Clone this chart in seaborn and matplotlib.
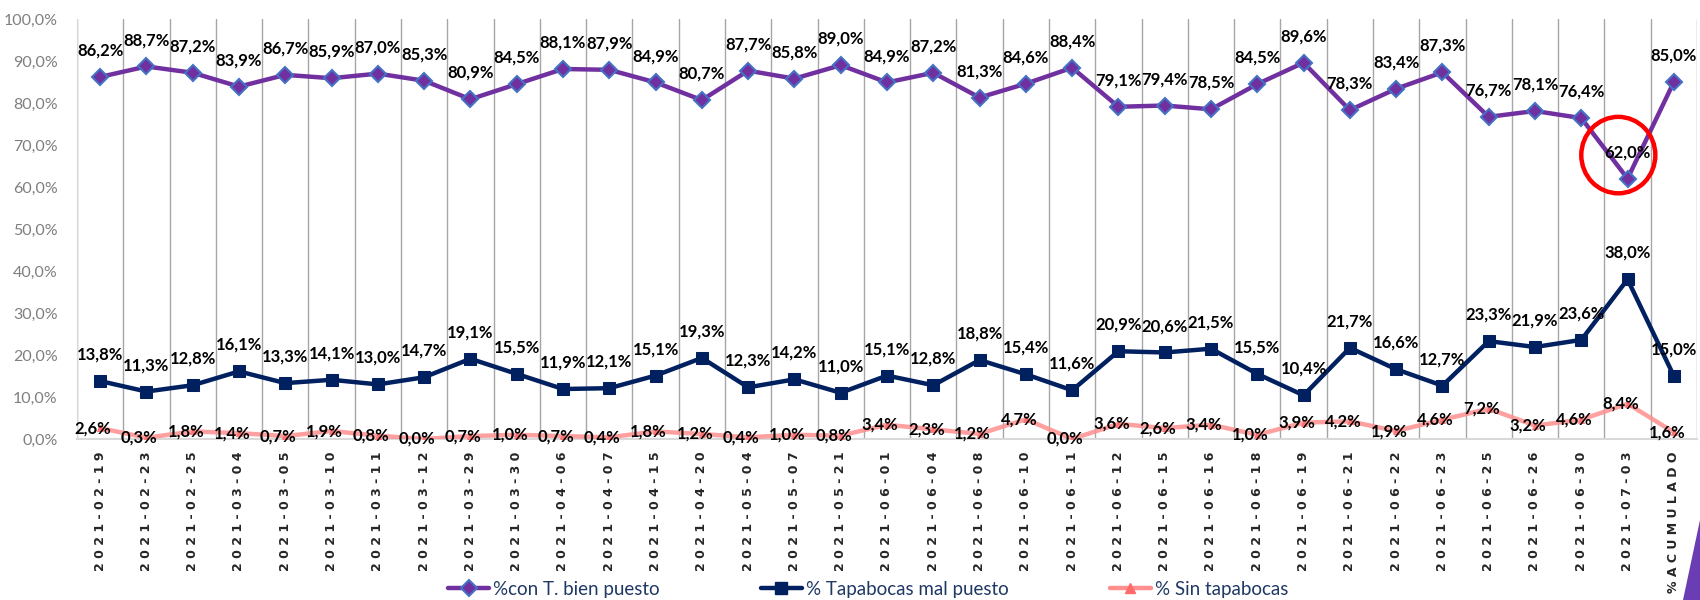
import numpy as np
import pandas as pd
import matplotlib
matplotlib.use("Agg")
import matplotlib.pyplot as plt
from matplotlib.patches import Ellipse, Polygon
from matplotlib.lines import Line2D
import seaborn as sns

fechas = ["2021-02-19", "2021-02-23", "2021-02-25", "2021-03-04", "2021-03-05", "2021-03-10",
          "2021-03-11", "2021-03-12", "2021-03-29", "2021-03-30", "2021-04-06", "2021-04-07",
          "2021-04-15", "2021-04-20", "2021-05-04", "2021-05-07", "2021-05-21", "2021-06-01",
          "2021-06-04", "2021-06-08", "2021-06-10", "2021-06-11", "2021-06-12", "2021-06-15",
          "2021-06-16", "2021-06-18", "2021-06-19", "2021-06-21", "2021-06-22", "2021-06-23",
          "2021-06-25", "2021-06-26", "2021-06-30", "2021-07-03", "% ACUMULADO"]

bien_puesto = [86.2, 88.7, 87.2, 83.9, 86.7, 85.9, 87.0, 85.3, 80.9, 84.5, 88.1, 87.9, 84.9,
               80.7, 87.7, 85.8, 89.0, 84.9, 87.2, 81.3, 84.6, 88.4, 79.1, 79.4, 78.5, 84.5,
               89.6, 78.3, 83.4, 87.3, 76.7, 78.1, 76.4, 62.0, 85.0]
mal_puesto = [13.8, 11.3, 12.8, 16.1, 13.3, 14.1, 13.0, 14.7, 19.1, 15.5, 11.9, 12.1, 15.1,
              19.3, 12.3, 14.2, 11.0, 15.1, 12.8, 18.8, 15.4, 11.6, 20.9, 20.6, 21.5, 15.5,
              10.4, 21.7, 16.6, 12.7, 23.3, 21.9, 23.6, 38.0, 15.0]
sin_tapabocas = [2.6, 0.3, 1.8, 1.4, 0.7, 1.9, 0.8, 0.0, 0.7, 1.0, 0.7, 0.4, 1.8, 1.2, 0.4,
                 1.0, 0.8, 3.4, 2.3, 1.2, 4.7, 0.0, 3.6, 2.6, 3.4, 1.0, 3.9, 4.2, 1.9, 4.6,
                 7.2, 3.2, 4.6, 8.4, 1.6]

series = ["%con T. bien puesto", "% Tapabocas mal puesto", "% Sin tapabocas"]

df = pd.DataFrame({"fecha": fechas, series[0]: bien_puesto,
                   series[1]: mal_puesto, series[2]: sin_tapabocas})

sns.set_style("white")
plt.rcParams["font.family"] = ["Lato", "DejaVu Sans"]

fig = plt.figure(figsize=(17, 6), dpi=100)
ax = fig.add_axes([77 / 1700, 1 - 439 / 600, 1620 / 1700, 420 / 600])

morado = "#7030A0"
azul = "#002060"
rosa = "#FF8F8F"

sns.lineplot(data=df, x="fecha", y=series[0], ax=ax, color=morado, lw=3.2, marker="D",
             markersize=8, markerfacecolor=morado, markeredgecolor="#4472C4",
             markeredgewidth=1.5, zorder=4)
sns.lineplot(data=df, x="fecha", y=series[1], ax=ax, color=azul, lw=3.2, marker="s",
             markersize=9, markerfacecolor=azul, markeredgecolor=azul, zorder=4)
sns.lineplot(data=df, x="fecha", y=series[2], ax=ax, color=rosa, lw=3.2, alpha=0.85,
             marker="^", markersize=5, markerfacecolor="#FF6B6B", markeredgecolor="#FF6B6B",
             zorder=3)

def fmt(v):
    return f"{v:.1f}%".replace(".", ",")

for i, v in enumerate(bien_puesto):
    ax.annotate(fmt(v), (i, v), xytext=(0, 19), textcoords="offset points",
                ha="center", va="center", fontsize=12, fontweight="bold", color="black", zorder=6)
for i, v in enumerate(mal_puesto):
    ax.annotate(fmt(v), (i, v), xytext=(0, 19), textcoords="offset points",
                ha="center", va="center", fontsize=12, fontweight="bold", color="black", zorder=6)
for i, v in enumerate(sin_tapabocas):
    ax.annotate(fmt(v), (i, v), xytext=(-5, 0), textcoords="offset points",
                ha="center", va="center", fontsize=12, fontweight="bold", color="black", zorder=6)

# circulo rojo sobre el minimo
imin = int(np.argmin(bien_puesto))
ax.add_patch(Ellipse((imin - 0.2, bien_puesto[imin] + 5.6), 1.6, 18.2, fill=False,
                     edgecolor="#FF0000", lw=3.2, zorder=7, clip_on=False))

ax.set_xlim(-0.5, len(fechas) - 0.5)
ax.set_ylim(0, 100)
ax.set_yticks(np.arange(0, 101, 10))
ax.set_yticklabels([fmt(t) for t in np.arange(0, 101, 10)], fontsize=11.5, color="#7F7F7F")
ax.set_xticks(range(len(fechas)))
ax.set_xticklabels([" ".join(f.replace(" ", "")) for f in fechas], rotation=90, fontsize=9,
                   fontweight="bold", family="DejaVu Sans")
ax.set_xticks(np.arange(-0.5, len(fechas), 1), minor=True)
ax.grid(False)
ax.grid(which="minor", axis="x", color="#A6A6A6", lw=1)
ax.tick_params(axis="both", which="both", length=0)
ax.tick_params(axis="x", pad=9)
ax.tick_params(axis="y", pad=14)
ax.set_xlabel("")
ax.set_ylabel("")
for s in ["top", "right"]:
    ax.spines[s].set_visible(False)
ax.spines["left"].set_color("#D9D9D9")
ax.spines["bottom"].set_color("#D9D9D9")
ax.spines["bottom"].set_linewidth(1.5)
if ax.get_legend():
    ax.get_legend().remove()

handles = [
    Line2D([], [], color=morado, lw=3.2, marker="D", markersize=8, markerfacecolor=morado,
           markeredgecolor="#4472C4", markeredgewidth=1.5),
    Line2D([], [], color=azul, lw=3.2, marker="s", markersize=9, markerfacecolor=azul),
    Line2D([], [], color=rosa, lw=3.2, marker="^", markersize=7, markerfacecolor="#FF6B6B",
           markeredgecolor="#FF6B6B"),
]
leg = fig.legend(handles, series, loc="center", bbox_to_anchor=(868 / 1700, 11 / 600), ncol=3,
                 frameon=False, fontsize=13.5, handlelength=2.2, handletextpad=0.2,
                 columnspacing=5.4)
for t in leg.get_texts():
    t.set_color("#1F3864")

# adorno morado de la esquina
fig.patches.append(Polygon([(1683 / 1700, 0), (1, 0), (1, 80 / 600)], closed=True,
                           transform=fig.transFigure, facecolor="#6A3DB5", edgecolor="none"))

fig.savefig("out.png", dpi=100)
